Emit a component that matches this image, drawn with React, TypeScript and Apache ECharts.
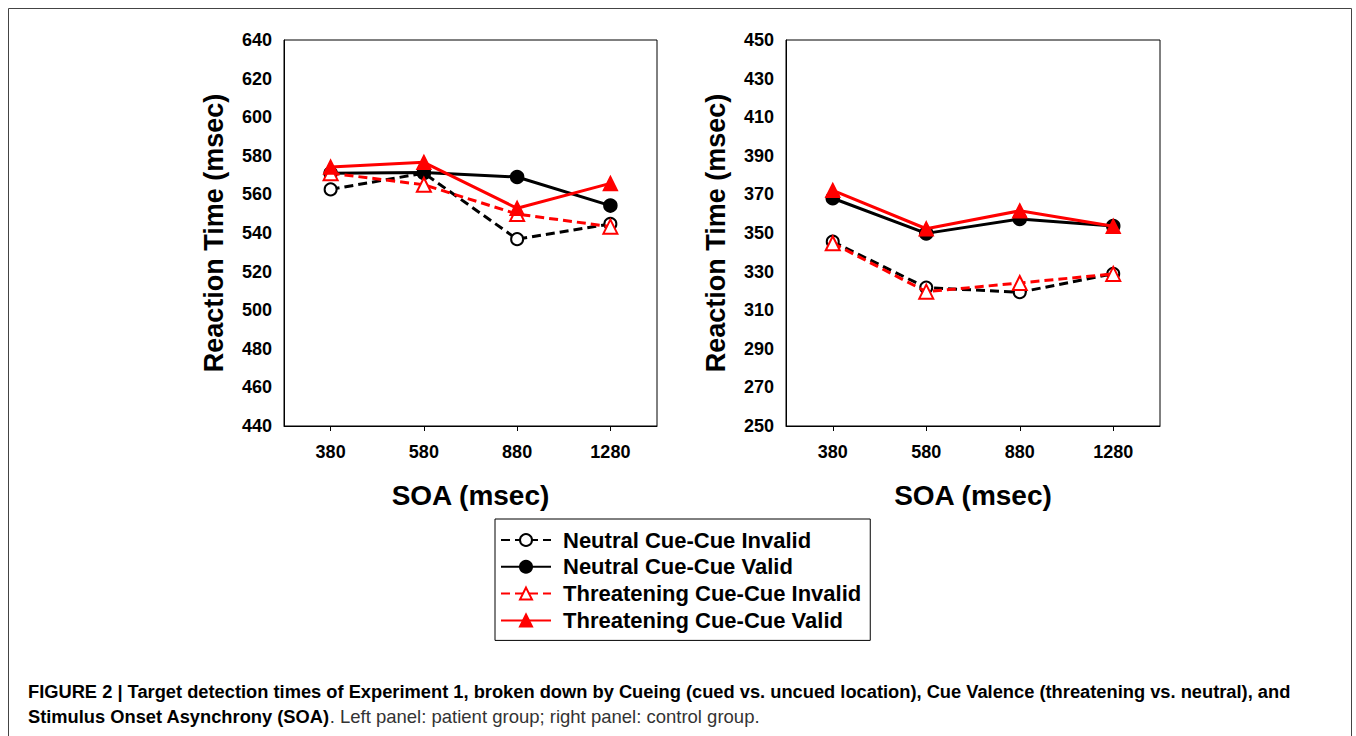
import React, { useEffect, useRef } from "react";
import * as echarts from "echarts";

const soaLabels = ["380", "580", "880", "1280"];
const seriesNames = [
  "Neutral Cue-Cue Invalid",
  "Neutral Cue-Cue Valid",
  "Threatening Cue-Cue Invalid",
  "Threatening Cue-Cue Valid",
];

// Left panel: patient group
const patientNeutralInvalid = [562.6, 571, 536.8, 544.7];
const patientNeutralValid = [571, 571.3, 569, 554.2];
const patientThreatInvalid = [571, 565, 549.8, 543.3];
const patientThreatValid = [574.2, 576.6, 552.8, 565.7];

// Right panel: control group
const controlNeutralInvalid = [345.5, 321.7, 319.3, 328.9];
const controlNeutralValid = [368, 349.8, 357.3, 353.6];
const controlThreatInvalid = [344.7, 319.6, 324.1, 328.8];
const controlThreatValid = [372.1, 352.2, 361.5, 353.5];

const patientTicks = [440, 460, 480, 500, 520, 540, 560, 580, 600, 620, 640];
const controlTicks = [250, 270, 290, 310, 330, 350, 370, 390, 410, 430, 450];

const captionLine1 =
  "FIGURE 2 | Target detection times of Experiment 1, broken down by Cueing (cued vs. uncued location), Cue Valence (threatening vs. neutral), and";
const captionBold2 = "Stimulus Onset Asynchrony (SOA)";
const captionNormal2 = ". Left panel: patient group; right panel: control group.";

const FONT = '"Liberation Sans", Arial, Helvetica, sans-serif';
const RED = "#ff0000";
const BLACK = "#000000";
const DASH = [9, 5];

const styles = [
  { symbol: "emptyCircle", size: 12, color: BLACK, dashed: true },
  { symbol: "circle", size: 13, color: BLACK, dashed: false },
  { symbol: "emptyTriangle", size: 14, color: RED, dashed: true },
  { symbol: "triangle", size: 14, color: RED, dashed: false },
];

function makeSeries(data: number[], idx: number, axisIndex: number) {
  const s = styles[idx];
  return {
    type: "line",
    name: seriesNames[idx],
    xAxisIndex: axisIndex,
    yAxisIndex: axisIndex,
    data,
    symbol: s.symbol,
    symbolSize: s.size,
    showAllSymbol: true,
    lineStyle: { color: s.color, width: 3, type: s.dashed ? DASH : "solid" },
    itemStyle: { color: s.color, borderColor: s.color, borderWidth: 1.5 },
    emphasis: { disabled: true },
    z: 2 + idx,
  };
}

function xAxis(gridIndex: number) {
  return {
    type: "category",
    gridIndex,
    data: soaLabels,
    boundaryGap: true,
    axisLine: { lineStyle: { color: BLACK, width: 1 } },
    axisTick: { show: true, alignWithLabel: true, length: 5, lineStyle: { color: BLACK } },
    axisLabel: { color: BLACK, fontFamily: FONT, fontWeight: "bold", fontSize: 18, margin: 17 },
    splitLine: { show: false },
    name: "SOA (msec)",
    nameLocation: "middle",
    nameGap: 55,
    nameTextStyle: { color: BLACK, fontFamily: FONT, fontWeight: "bold", fontSize: 28 },
  };
}

function yAxis(gridIndex: number, ticks: number[]) {
  return {
    type: "value",
    gridIndex,
    min: ticks[0],
    max: ticks[ticks.length - 1],
    axisLine: { show: true, lineStyle: { color: BLACK, width: 1 } },
    axisTick: { show: false },
    axisLabel: {
      color: BLACK,
      fontFamily: FONT,
      fontWeight: "bold",
      fontSize: 18,
      margin: 12,
      customValues: ticks,
    },
    splitLine: { show: false },
    name: "Reaction Time (msec)",
    nameLocation: "middle",
    nameRotate: 90,
    nameGap: 57,
    nameTextStyle: { color: BLACK, fontFamily: FONT, fontWeight: "bold", fontSize: 27 },
  };
}

export default function App() {
  const ref = useRef<HTMLDivElement>(null);

  useEffect(() => {
    if (!ref.current) return;
    const chart = echarts.init(ref.current, undefined, { renderer: "svg" });
    const option = {
      animation: false,
      backgroundColor: "#ffffff",
      grid: [
        { left: 284, top: 40, width: 373, height: 386, show: true, borderColor: BLACK, borderWidth: 1, backgroundColor: "transparent" },
        { left: 786, top: 40, width: 374, height: 386, show: true, borderColor: BLACK, borderWidth: 1, backgroundColor: "transparent" },
      ],
      xAxis: [xAxis(0), xAxis(1)],
      yAxis: [yAxis(0, patientTicks), yAxis(1, controlTicks)],
      legend: {
        data: seriesNames,
        orient: "vertical",
        left: 495,
        top: 519,
        itemWidth: 50,
        itemHeight: 15,
        itemGap: 4.8,
        padding: [10, 9, 9, 5],
        borderColor: BLACK,
        borderWidth: 1,
        backgroundColor: "#ffffff",
        selectedMode: false,
        textStyle: {
          color: BLACK,
          fontFamily: FONT,
          fontWeight: "bold",
          fontSize: 22,
          lineHeight: 20,
          padding: [0, 0, 0, 7],
        },
      },
      graphic: [
        {
          type: "rect",
          shape: { x: 8.5, y: 8.5, width: 1343, height: 760 },
          style: { fill: "none", stroke: "#444", lineWidth: 1 },
          silent: true,
          z: -1,
        },
        {
          type: "text",
          left: 28,
          top: 682,
          style: { text: captionLine1, font: `bold 18.3px ${FONT}`, fill: BLACK },
          silent: true,
        },
        {
          type: "text",
          left: 28,
          top: 707,
          style: {
            text: `{b|${captionBold2}}{n|${captionNormal2}}`,
            rich: {
              b: { font: `bold 18.3px ${FONT}`, fill: BLACK },
              n: { font: `18.5px ${FONT}`, fill: "#333" },
            },
          },
          silent: true,
        },
      ],
      series: [
        makeSeries(patientNeutralInvalid, 0, 0),
        makeSeries(patientNeutralValid, 1, 0),
        makeSeries(patientThreatInvalid, 2, 0),
        makeSeries(patientThreatValid, 3, 0),
        makeSeries(controlNeutralInvalid, 0, 1),
        makeSeries(controlNeutralValid, 1, 1),
        makeSeries(controlThreatInvalid, 2, 1),
        makeSeries(controlThreatValid, 3, 1),
      ],
    };
    chart.setOption(option as any);
    return () => chart.dispose();
  }, []);

  return (
    <div
      ref={ref}
      style={{ position: "absolute", left: 0, top: 0, width: 1356, height: 736 }}
    />
  );
}
